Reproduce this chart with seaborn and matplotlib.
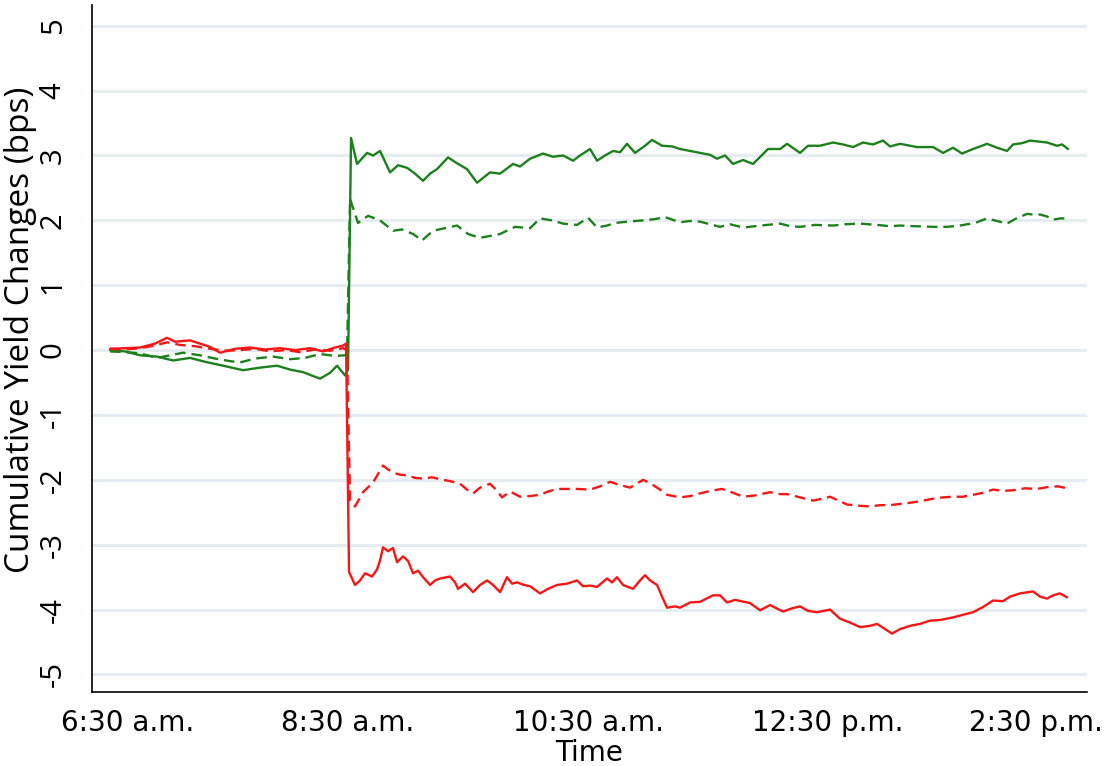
"""
Cumulative intraday yield changes around the 8:30 a.m. announcement
"""
import numpy as np
import pandas as pd
import seaborn as sns
import matplotlib.pyplot as plt

# minute index of the trading day (10 = 6:30 a.m., 120 = 8:30 a.m. ...)
tick_pos = [10, 120, 240, 360, 464]
tick_labels = ['6:30 a.m.', '8:30 a.m.', '10:30 a.m.', '12:30 p.m.', '2:30 p.m.']
y_ticks = [-5, -4, -3, -2, -1, 0, 1, 2, 3, 4, 5]

# green, solid
pos_short_t = [1, 8.5, 16, 24.5, 32.5, 41, 48.5, 57.5, 67.5, 76,
               84.5, 91, 97.5, 106, 111, 114.5, 118.5, 120, 121.5, 124.5,
               129.5, 132.5, 136, 141, 145, 149.5, 153.5, 157.5, 161, 164.5,
               170, 174.5, 179.5, 184.5, 191, 196, 202.5, 206, 211, 217.5,
               222.5, 227.5, 232.5, 236, 241, 244.5, 248.5, 252.5, 256, 259.5,
               263.5, 268.5, 272, 277, 282, 286, 291, 296, 301, 304.5,
               308.5, 312.5, 317.5, 322.5, 330, 336, 339.5, 346, 350, 356,
               362.5, 367.5, 372.5, 377.5, 382.5, 387.5, 391, 396, 401, 404.5,
               412.5, 417.5, 422.5, 427, 432.5, 439.5, 444.5, 449.5, 452.5, 457,
               461, 469.5, 474.5, 477, 480]
pos_short_y = [0.00, -0.02, -0.08, -0.10, -0.16, -0.12, -0.18, -0.24, -0.31, -0.27,
               -0.24, -0.30, -0.34, -0.44, -0.35, -0.24, -0.39, -0.30, 3.27, 2.87,
               3.04, 3.00, 3.07, 2.74, 2.85, 2.81, 2.72, 2.61, 2.72, 2.79,
               2.97, 2.88, 2.79, 2.58, 2.74, 2.72, 2.87, 2.83, 2.95, 3.03,
               2.98, 3.00, 2.92, 3.00, 3.10, 2.92, 3.00, 3.07, 3.05, 3.18,
               3.04, 3.15, 3.24, 3.15, 3.14, 3.10, 3.07, 3.04, 3.01, 2.95,
               3.00, 2.87, 2.93, 2.87, 3.10, 3.10, 3.18, 3.04, 3.15, 3.15,
               3.20, 3.17, 3.13, 3.20, 3.17, 3.23, 3.14, 3.18, 3.15, 3.13,
               3.13, 3.04, 3.12, 3.03, 3.10, 3.18, 3.12, 3.07, 3.17, 3.19,
               3.23, 3.20, 3.15, 3.17, 3.10]

# green, dashed
pos_long_t = [1, 8.5, 16, 24.5, 31, 37.5, 46, 53.5, 61, 66,
              73.5, 82.5, 91, 98.5, 106, 113.5, 118.5, 119.5,
              121, 123.5, 125, 130, 136, 142.5, 147, 152.5, 157, 162.5,
              168.5, 174.5, 180, 186, 191, 196, 203.5, 211, 216, 222,
              227.5, 234.5, 240, 244.5, 249.5, 253.5, 259.5, 267.5, 273.5, 278.5,
              286, 291, 296, 306, 311, 317.5, 323.5, 329.5, 336, 341,
              346, 353.5, 362.5, 368.5, 376, 384.5, 391, 396, 403.5, 412.5,
              419.5, 426, 429.5, 433.5, 439.5, 444.5, 449.5, 453.5, 459.5, 462.5,
              466, 469.5, 472.5, 476, 479.5]
pos_long_y = [-0.02, -0.03, -0.05, -0.12, -0.08, -0.04, -0.08, -0.13, -0.17, -0.19,
              -0.13, -0.10, -0.14, -0.12, -0.06, -0.09, -0.08, -0.05,
              2.33, 2.10, 1.96, 2.07, 2.00, 1.84, 1.86, 1.79, 1.69, 1.84,
              1.88, 1.92, 1.79, 1.73, 1.76, 1.79, 1.90, 1.88, 2.03, 2.00,
              1.95, 1.93, 2.04, 1.89, 1.92, 1.96, 1.98, 2.00, 2.02, 2.05,
              1.97, 1.99, 1.98, 1.90, 1.94, 1.89, 1.91, 1.93, 1.95, 1.91,
              1.90, 1.93, 1.92, 1.94, 1.95, 1.93, 1.91, 1.92, 1.91, 1.90,
              1.90, 1.92, 1.94, 1.96, 2.03, 1.99, 1.95, 2.02, 2.10, 2.09,
              2.09, 2.06, 2.01, 2.03, 2.03]

# red, solid
neg_short_t = [1, 8.5, 16, 23.5, 29.5, 33.5, 41, 46, 51, 56,
               63.5, 71, 78.5, 86, 93.5, 101, 107.5, 113.5, 117.5, 119,
               120.5, 123.5, 126, 128.5, 132, 134.5, 136, 137.5, 140, 142.5,
               144.5, 147.5, 150, 152.5, 155, 157.5, 161, 163.5, 166, 171,
               173.5, 175, 178.5, 182.5, 186, 189.5, 192.5, 196, 199.5, 202,
               204.5, 208, 211, 216, 220, 224.5, 229.5, 234.5, 237.5, 241,
               244.5, 249.5, 252, 254.5, 257.5, 262.5, 266, 268.5, 271, 274.5,
               277, 279.5, 283.5, 286, 291, 296, 302.5, 306, 309.5, 313.5,
               321, 326, 331, 337.5, 342, 346, 350, 354.5, 361, 366,
               371, 376, 381, 384.5, 388.5, 392, 396, 401, 406, 411,
               416, 422.5, 427.5, 432.5, 437.5, 442.5, 447.5, 451, 456, 462.5,
               466, 469.5, 472.5, 476, 479.5]
neg_short_y = [0.02, 0.03, 0.04, 0.10, 0.19, 0.13, 0.15, 0.10, 0.05, -0.04,
               0.02, 0.04, 0.01, 0.03, 0.00, 0.03, -0.02, 0.04, 0.07, 0.10,
               -3.42, -3.62, -3.55, -3.44, -3.49, -3.38, -3.24, -3.04, -3.10, -3.05,
               -3.27, -3.18, -3.25, -3.44, -3.40, -3.50, -3.62, -3.55, -3.52, -3.49,
               -3.58, -3.68, -3.60, -3.73, -3.62, -3.55, -3.62, -3.73, -3.50, -3.60,
               -3.58, -3.62, -3.64, -3.75, -3.68, -3.62, -3.60, -3.55, -3.64, -3.63,
               -3.65, -3.52, -3.58, -3.50, -3.62, -3.68, -3.55, -3.47, -3.55, -3.62,
               -3.80, -3.97, -3.95, -3.97, -3.89, -3.88, -3.78, -3.78, -3.89, -3.85,
               -3.90, -4.01, -3.93, -4.03, -3.98, -3.95, -4.02, -4.04, -4.00, -4.14,
               -4.20, -4.27, -4.25, -4.22, -4.30, -4.37, -4.30, -4.25, -4.22, -4.17,
               -4.16, -4.12, -4.08, -4.04, -3.96, -3.86, -3.87, -3.80, -3.75, -3.72,
               -3.80, -3.83, -3.78, -3.75, -3.81]

# red, dashed
neg_long_t = [1, 8.5, 16, 23.5, 29.5, 36, 43.5, 51, 58.5, 66,
              73.5, 81, 88.5, 96, 103.5, 111, 117.5, 119.5,
              121, 123.5, 127.5, 132.5, 137.5, 140, 142.5, 146, 149.5, 153.5,
              157.5, 162, 166, 171, 176, 179.5, 182.5, 186, 191, 194,
              197, 201, 206, 211, 216, 220, 224.5, 229.5, 234.5, 241,
              246, 251, 256, 261, 267.5, 271, 276, 279.5, 286, 291,
              294.5, 301, 307, 311, 317.5, 323.5, 331, 336, 339.5, 346,
              352.5, 357, 361, 366, 369.5, 376, 381, 386, 391, 396,
              399.5, 406, 412.5, 417.5, 422.5, 427.5, 432.5, 437.5, 442.5, 447.5,
              452.5, 458.5, 464.5, 470, 475, 479.5]
neg_long_y = [0.02, 0.01, 0.03, 0.07, 0.12, 0.08, 0.06, 0.02, -0.01, 0.00,
              0.02, -0.02, 0.00, -0.03, 0.01, -0.01, 0.03, 0.00,
              -2.32, -2.41, -2.19, -2.04, -1.78, -1.84, -1.89, -1.92, -1.93, -1.97,
              -1.98, -1.96, -1.99, -2.02, -2.06, -2.15, -2.21, -2.12, -2.06, -2.15,
              -2.27, -2.18, -2.26, -2.25, -2.23, -2.18, -2.14, -2.14, -2.14, -2.15,
              -2.10, -2.03, -2.08, -2.12, -2.00, -2.05, -2.15, -2.23, -2.27, -2.25,
              -2.22, -2.17, -2.14, -2.18, -2.26, -2.24, -2.19, -2.22, -2.22, -2.27,
              -2.32, -2.29, -2.26, -2.33, -2.38, -2.40, -2.41, -2.39, -2.39, -2.37,
              -2.36, -2.33, -2.29, -2.27, -2.26, -2.26, -2.23, -2.20, -2.15, -2.17,
              -2.16, -2.13, -2.14, -2.11, -2.10, -2.13]

series = [
    ('positive', 'solid', pos_short_t, pos_short_y),
    ('positive', 'dashed', pos_long_t, pos_long_y),
    ('negative', 'solid', neg_short_t, neg_short_y),
    ('negative', 'dashed', neg_long_t, neg_long_y),
]
frames = []
for surprise, kind, t, y in series:
    frames.append(pd.DataFrame({'t': t, 'change': y, 'surprise': surprise, 'kind': kind}))
df = pd.concat(frames, ignore_index=True)

sns.set_style('white')
plt.rcParams['font.family'] = ['DejaVu Sans']
plt.rcParams['text.color'] = 'black'
plt.rcParams['axes.labelcolor'] = 'black'

fig = plt.figure(figsize=(11.09, 7.66), dpi=100)
ax = fig.add_axes([0.083, 0.0966, 0.8972, 0.8969])

for y in y_ticks:
    ax.axhline(y, color='#e6edf0', lw=2.2, zorder=0)

sns.lineplot(data=df, x='t', y='change', hue='surprise', style='kind',
             palette={'positive': '#1c801c', 'negative': '#f71616'},
             dashes={'solid': '', 'dashed': (4.5, 2.5)},
             estimator=None, sort=True, lw=1.7, legend=False, ax=ax)

ax.set_xlim(-8, 489.5)
ax.set_ylim(-5.27, 5.32)
ax.set_xticks(tick_pos)
ax.set_xticklabels(tick_labels, fontsize=20)
ax.set_yticks(y_ticks)
ax.set_yticklabels([str(v) for v in y_ticks], fontsize=21, rotation=90,
                   va='center', family=['Open Sans', 'DejaVu Sans'])
ax.tick_params(axis='x', length=8.5, width=1.2, pad=3.5, colors='black')
ax.tick_params(axis='y', length=8.5, width=1.2, pad=9, colors='black')

ax.set_xlabel('Time', fontsize=20, labelpad=2, color='black')
ax.set_ylabel('Cumulative Yield Changes (bps)', fontsize=24,
              family=['Open Sans', 'DejaVu Sans'], color='black')
ax.yaxis.set_label_coords(-0.055, 0.527)

for side in ['top', 'right']:
    ax.spines[side].set_visible(False)
for side in ['left', 'bottom']:
    ax.spines[side].set_color('black')
    ax.spines[side].set_linewidth(1.2)

plt.savefig('out.png', dpi=100)
